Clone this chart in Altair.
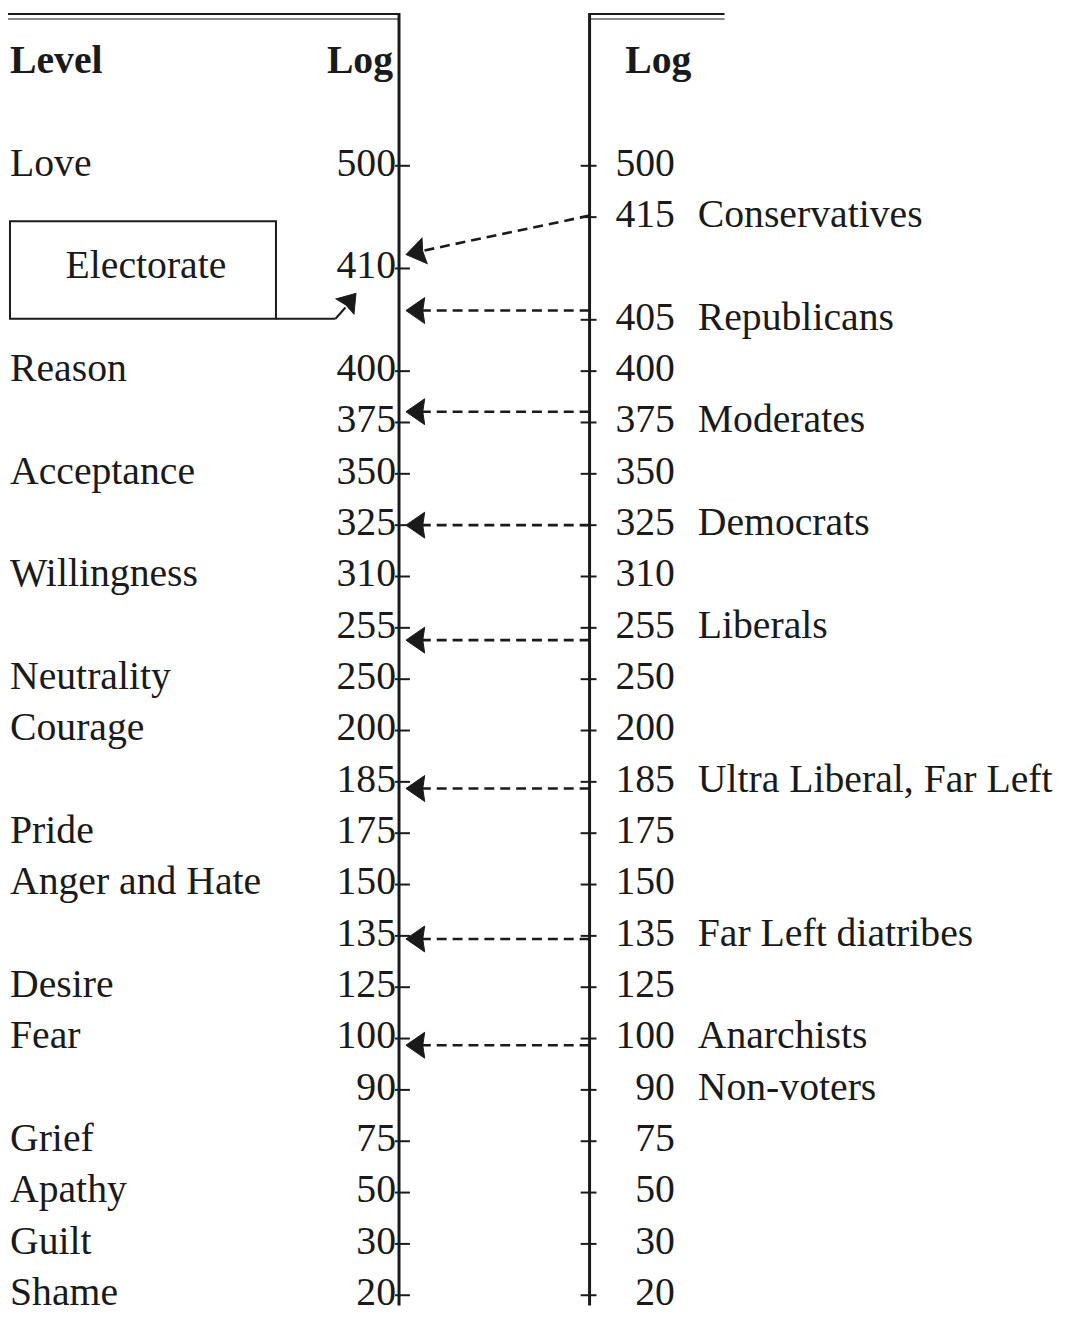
import altair as alt
import pandas as pd

# ---- data -------------------------------------------------------------
log_values = [500, 415, 410, 405, 400, 375, 350, 325, 310, 255, 250, 200,
              185, 175, 150, 135, 125, 100, 90, 75, 50, 30, 20]
left_missing = [415, 405]
right_missing = [410]

levels = ["Love", "Reason", "Acceptance", "Willingness", "Neutrality", "Courage",
          "Pride", "Anger and Hate", "Desire", "Fear", "Grief", "Apathy",
          "Guilt", "Shame"]
level_logs = [500, 400, 350, 310, 250, 200, 175, 150, 125, 100, 75, 50, 30, 20]

groups = ["Conservatives", "Republicans", "Moderates", "Democrats", "Liberals",
          "Ultra Liberal, Far Left", "Far Left diatribes", "Anarchists", "Non-voters"]
group_logs = [415, 405, 375, 325, 255, 185, 135, 100, 90]

# arrows: group -> (start row offset, end row offset) relative to the group's row
arrow_groups = ["Conservatives", "Republicans", "Moderates", "Democrats", "Liberals",
                "Ultra Liberal, Far Left", "Far Left diatribes", "Anarchists"]
arrow_start_off = [-0.03, -0.18, -0.21, 0.0, 0.24, 0.13, 0.06, 0.13]
arrow_end_off = [0.68, -0.18, -0.21, 0.0, 0.24, 0.13, 0.06, 0.13]

# ---- layout (x in chart units, y in row units) -------------------------
W, H = 1058, 1310
PX_PER_ROW = 51.73
ROW_TOP = 1 - 154 / PX_PER_ROW
ROW_BOT = ROW_TOP + H / PX_PER_ROW
LINE_BOT = 23.2
X_LEFT_LINE, X_RIGHT_LINE = 394, 586
FONT = "Liberation Serif"
FS = 40
INK = "#1a1a1a"
ARROW = "M-1,0L0.45,-1L0.3,0L0.45,1Z"


def row_of(v):
    return log_values.index(v) + 1


xs = alt.Scale(domain=[0, W], nice=False, zero=False)
ys = alt.Scale(domain=[ROW_TOP, ROW_BOT], nice=False, zero=False, reverse=True)


def X(f="x"):
    return alt.X(f"{f}:Q", scale=xs, axis=None)


def Y(f="row"):
    return alt.Y(f"{f}:Q", scale=ys, axis=None)


# vertical lines
vlines = pd.DataFrame({"x": [X_LEFT_LINE, X_RIGHT_LINE],
                       "row": [ROW_TOP, ROW_TOP], "row2": [LINE_BOT, LINE_BOT]})
vline_layer = alt.Chart(vlines).mark_rule(color=INK, strokeWidth=3).encode(
    x=X(), y=Y(), y2="row2:Q")

# top double rules
top = pd.DataFrame({"x": [0, 0, X_RIGHT_LINE, X_RIGHT_LINE],
                    "x2": [X_LEFT_LINE, X_LEFT_LINE, 722, 722],
                    "row": [ROW_TOP + 1.0 / PX_PER_ROW, ROW_TOP + 6 / PX_PER_ROW,
                            ROW_TOP + 1.0 / PX_PER_ROW, ROW_TOP + 6 / PX_PER_ROW],
                    "c": ["a", "b", "a", "b"]})
top_layer = alt.Chart(top).mark_rule(strokeWidth=2).encode(
    x=X(), x2="x2:Q", y=Y(),
    color=alt.Color("c:N", scale=alt.Scale(domain=["a", "b"], range=[INK, "#8a8a8a"]), legend=None))

# ticks
left_vals = [v for v in log_values if v not in left_missing]
right_vals = [v for v in log_values if v not in right_missing]
ticks = pd.DataFrame(
    [{"x": X_LEFT_LINE - 4, "x2": X_LEFT_LINE + 11, "row": row_of(v)} for v in left_vals] +
    [{"x": X_RIGHT_LINE - 9, "x2": X_RIGHT_LINE + 7, "row": row_of(v)} for v in right_vals])
tick_layer = alt.Chart(ticks).mark_rule(color=INK, strokeWidth=2).encode(
    x=X(), x2="x2:Q", y=Y())

TXT = dict(baseline="middle", font=FONT, fontSize=FS, color=INK, dy=-2)

# numbers
left_nums = pd.DataFrame({"x": X_LEFT_LINE - 3, "row": [row_of(v) for v in left_vals],
                          "t": [str(v) for v in left_vals]})
right_nums = pd.DataFrame({"x": 672, "row": [row_of(v) for v in right_vals],
                           "t": [str(v) for v in right_vals]})
lnum_layer = alt.Chart(left_nums).mark_text(align="right", **TXT).encode(
    x=X(), y=Y(), text="t:N")
rnum_layer = alt.Chart(right_nums).mark_text(align="right", **TXT).encode(
    x=X(), y=Y(), text="t:N")

# level labels
lev = pd.DataFrame({"x": 2, "row": [row_of(v) for v in level_logs], "t": levels})
lev_layer = alt.Chart(lev).mark_text(align="left", **TXT).encode(
    x=X(), y=Y(), text="t:N")

# group labels
grp = pd.DataFrame({"x": 695, "row": [row_of(v) for v in group_logs], "t": groups})
grp_layer = alt.Chart(grp).mark_text(align="left", **TXT).encode(
    x=X(), y=Y(), text="t:N")

# headers
hdr = pd.DataFrame({"x": [2, X_LEFT_LINE - 6, 622], "row": [-1.0, -1.0, -1.0],
                    "t": ["Level", "Log", "Log"], "a": ["left", "right", "left"]})
hdr_layer = alt.layer(*[
    alt.Chart(hdr[hdr.a == a]).mark_text(align=a, fontWeight="bold", **TXT).encode(
        x=X(), y=Y(), text="t:N") for a in ["left", "right"]])

# dashed arrows
arr = pd.DataFrame({
    "g": arrow_groups,
    "x": X_RIGHT_LINE,
    "x2": X_LEFT_LINE + 18,
    "row": [row_of(group_logs[groups.index(g)]) + o for g, o in zip(arrow_groups, arrow_start_off)],
    "row2": [row_of(group_logs[groups.index(g)]) + o for g, o in zip(arrow_groups, arrow_end_off)],
})
arr_layer = alt.Chart(arr).mark_rule(color=INK, strokeWidth=2.6, strokeDash=[10, 6]).encode(
    x=X(), x2="x2:Q", y=Y(), y2="row2:Q")

heads = pd.DataFrame({
    "x": X_LEFT_LINE + 20,
    "row": arr["row2"],
    "ang": [348.5] + [0] * (len(arrow_groups) - 1),
})
head_layer = alt.Chart(heads).mark_point(shape=ARROW, filled=True, size=680,
                                         fill=INK, fillOpacity=1, stroke=INK,
                                         strokeWidth=1, opacity=1).encode(
    x=X(), y=Y(), angle=alt.Angle("ang:Q", scale=None))

# Electorate box
box = pd.DataFrame({"x": [2], "x2": [270], "row": [2.08], "row2": [3.98]})
box_layer = alt.Chart(box).mark_rect(fill="white", stroke=INK, strokeWidth=2).encode(
    x=X(), x2="x2:Q", y=Y(), y2="row2:Q")
box_text = pd.DataFrame({"x": [139], "row": [3.0], "t": ["Electorate"]})
box_text_layer = alt.Chart(box_text).mark_text(align="center", **TXT).encode(
    x=X(), y=Y(), text="t:N")
conn = pd.DataFrame({"x": [270, 330], "x2": [330, 340], "row": [3.98, 3.98], "row2": [3.98, 3.76]})
conn_layer = alt.Chart(conn).mark_rule(color=INK, strokeWidth=2).encode(
    x=X(), x2="x2:Q", y=Y(), y2="row2:Q")
conn_head = pd.DataFrame({"x": [343], "row": [3.66], "ang": [130]})
conn_head_layer = alt.Chart(conn_head).mark_point(shape=ARROW, filled=True, size=560,
                                                  fill=INK, fillOpacity=1, stroke=INK,
                                                  strokeWidth=1, opacity=1).encode(
    x=X(), y=Y(), angle=alt.Angle("ang:Q", scale=None))

chart = alt.layer(
    top_layer, vline_layer, tick_layer, arr_layer, head_layer,
    box_layer, box_text_layer, conn_layer, conn_head_layer,
    lnum_layer, rnum_layer, lev_layer, grp_layer, hdr_layer,
).properties(
    width=W, height=H, padding=0, background="white",
    autosize=alt.AutoSizeParams(type="none"),
).configure_view(strokeWidth=0, stroke="transparent")

chart.save("out.html", embed_options={"renderer": "svg", "actions": False})
